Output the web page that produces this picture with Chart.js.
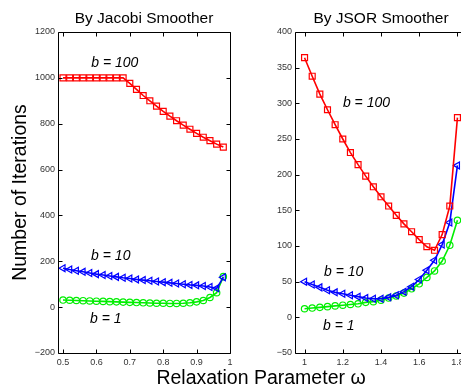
<!DOCTYPE html>
<html>
<head>
<meta charset="utf-8">
<script src="https://cdn.jsdelivr.net/npm/chart.js@4"></script>
<style>
  html, body { margin: 0; padding: 0; width: 461px; height: 385px; overflow: hidden; background: #fff; }
  canvas { position: absolute; top: 0; }
  #xtitle {
    position: absolute; left: 0; top: 367px; width: 522px; text-align: center;
    font: 19.5px "Liberation Sans", Arial, sans-serif; line-height: 20px; color: #000;
  }
</style>
</head>
<body>
<canvas id="jacobi" width="240" height="385" style="left:0"></canvas>
<canvas id="jsor" width="240" height="385" style="left:240px"></canvas>
<div id="xtitle">Relaxation Parameter ω</div>
<script>
// Jacobi smoother
const jacobiOmega = [0.50, 0.52, 0.54, 0.56, 0.58, 0.60, 0.62, 0.64, 0.66, 0.68, 0.70, 0.72, 0.74,
                     0.76, 0.78, 0.80, 0.82, 0.84, 0.86, 0.88, 0.90, 0.92, 0.94, 0.96, 0.98];
const jacobiB100 = [1000, 1000, 1000, 1000, 1000, 1000, 1000, 1000, 1000, 1000, 976, 950, 923,
                    900, 877, 854, 833, 813, 794, 776, 758, 741, 726, 711, 698];
const jacobiB10 = [170, 164, 159, 154, 149, 144, 140, 136, 132, 128, 125, 121, 118,
                   115, 112, 109, 106, 103, 100, 97, 95, 92, 88, 82, 130];
const jacobiB1 = [31, 30, 29, 28, 27, 26, 25, 24, 23, 22, 21, 20, 19,
                  18, 17, 17, 16, 16, 17, 19, 23, 29, 42, 63, 133];
const jacobiXTicks = [0.5, 0.6, 0.7, 0.8, 0.9, 1];
const jacobiYTicks = [-200, 0, 200, 400, 600, 800, 1000, 1200];

// JSOR smoother
const jsorOmega = [1.00, 1.04, 1.08, 1.12, 1.16, 1.20, 1.24, 1.28, 1.32, 1.36, 1.40,
                   1.44, 1.48, 1.52, 1.56, 1.60, 1.64, 1.68, 1.72, 1.76, 1.80];
const jsorB100 = [364, 338, 313, 291, 270, 250, 231, 214, 198, 183, 169,
                  156, 143, 131, 120, 109, 99, 94, 116, 156, 280];
const jsorB10 = [50, 46, 42, 38, 35, 33, 31, 29, 27, 26, 26,
                 28, 31, 36, 43, 53, 66, 80, 102, 133, 213];
const jsorB1 = [12, 13, 14, 15, 16, 17, 18, 19, 21, 22, 24,
                27, 30, 34, 40, 47, 56, 65, 79, 101, 136];
const jsorXTicks = [1, 1.2, 1.4, 1.6, 1.8];
const jsorYTicks = [-50, 0, 50, 100, 150, 200, 250, 300, 350, 400];

const FONT = '"Liberation Sans", Arial, sans-serif';

// box round the plot with inward ticks, panel title and curve labels
const framePlugin = {
  id: 'frame',
  afterDraw(chart, args, opts) {
    const { ctx, chartArea: a } = chart;
    const xs = chart.scales.x, ys = chart.scales.y;
    const L = Math.round(a.left) + 0.5, R = Math.round(a.right) + 0.5;
    const T = Math.round(a.top) + 0.5, B = Math.round(a.bottom) + 0.5;
    ctx.save();
    ctx.strokeStyle = '#000';
    ctx.lineWidth = 1;
    ctx.beginPath();
    ctx.rect(L, T, R - L, B - T);
    xs.ticks.forEach(t => {
      const px = Math.round(xs.getPixelForValue(t.value)) + 0.5;
      ctx.moveTo(px, B); ctx.lineTo(px, B - 4);
      ctx.moveTo(px, T); ctx.lineTo(px, T + 4);
    });
    ys.ticks.forEach(t => {
      const py = Math.round(ys.getPixelForValue(t.value)) + 0.5;
      ctx.moveTo(L, py); ctx.lineTo(L + 4, py);
      ctx.moveTo(R, py); ctx.lineTo(R - 4, py);
    });
    ctx.stroke();

    ctx.fillStyle = '#000';
    ctx.textAlign = 'center';
    ctx.textBaseline = 'alphabetic';
    ctx.font = '15.5px ' + FONT;
    ctx.fillText(opts.title, (a.left + a.right) / 2, 23);

    ctx.textBaseline = 'middle';
    ctx.font = 'italic 14px ' + FONT;
    opts.notes.forEach(n => {
      ctx.fillText(n.text, xs.getPixelForValue(n.x), ys.getPixelForValue(n.y));
    });
    ctx.restore();
  }
};

function series(omega, values, color, shape, radius, rotation) {
  return {
    data: omega.map((x, i) => ({ x: x, y: values[i] })),
    borderColor: color,
    backgroundColor: 'rgba(0,0,0,0)',
    borderWidth: 1.6,
    pointStyle: shape,
    pointRadius: radius,
    pointRotation: rotation || 0,
    pointBorderColor: color,
    pointBackgroundColor: 'rgba(0,0,0,0)',
    pointBorderWidth: 1.2,
    tension: 0,
    fill: false
  };
}

function fmt(v) {
  return String(v).replace('-', '\u2212');
}

function makeChart(id, cfg) {
  return new Chart(document.getElementById(id), {
    type: 'line',
    data: {
      datasets: [
        series(cfg.omega, cfg.b100, '#ff0000', 'rect', 4.2),
        series(cfg.omega, cfg.b10, '#0000ff', 'triangle', 4, 270),
        series(cfg.omega, cfg.b1, '#00ee00', 'circle', 3.2)
      ]
    },
    options: {
      responsive: false,
      animation: false,
      events: [],
      layout: { padding: { top: 32, right: cfg.padRight, left: 0, bottom: 0 } },
      plugins: {
        legend: { display: false },
        tooltip: { enabled: false },
        frame: { title: cfg.title, notes: cfg.notes }
      },
      scales: {
        x: {
          type: 'linear',
          min: cfg.xMin,
          max: cfg.xMax,
          afterBuildTicks: s => { s.ticks = cfg.xTicks.map(v => ({ value: v })); },
          afterFit: s => { s.height = 32; },
          grid: { display: false, drawTicks: false },
          border: { display: false },
          ticks: {
            font: { size: 9, family: FONT }, color: '#333', padding: 4,
            maxRotation: 0, autoSkip: false, callback: fmt
          }
        },
        y: {
          type: 'linear',
          min: cfg.yTicks[0],
          max: cfg.yTicks[cfg.yTicks.length - 1],
          afterBuildTicks: s => { s.ticks = cfg.yTicks.map(v => ({ value: v })); },
          afterFit: s => { s.width = cfg.yWidth; },
          grid: { display: false, drawTicks: false },
          border: { display: false },
          title: {
            display: !!cfg.yTitle,
            text: cfg.yTitle || '',
            font: { size: 19.5, family: FONT },
            color: '#000',
            padding: { top: 9.3, bottom: 0 }
          },
          ticks: {
            font: { size: 9, family: FONT }, color: '#333', padding: 3,
            autoSkip: false, callback: fmt
          }
        }
      }
    },
    plugins: [framePlugin]
  });
}

makeChart('jacobi', {
  title: 'By Jacobi Smoother',
  omega: jacobiOmega, b100: jacobiB100, b10: jacobiB10, b1: jacobiB1,
  xMin: 0.485, xMax: 1.0, xTicks: jacobiXTicks, yTicks: jacobiYTicks,
  yWidth: 58, padRight: 10, yTitle: 'Number of Iterations',
  notes: [
    { text: 'b = 100', x: 0.655, y: 1065 },
    { text: 'b = 10', x: 0.643, y: 222 },
    { text: 'b = 1', x: 0.628, y: -54 }
  ]
});

makeChart('jsor', {
  title: 'By JSOR Smoother',
  omega: jsorOmega, b100: jsorB100, b10: jsorB10, b1: jsorB1,
  xMin: 0.95, xMax: 1.85, xTicks: jsorXTicks, yTicks: jsorYTicks,
  yWidth: 55, padRight: 13,
  notes: [
    { text: 'b = 100', x: 1.324, y: 300 },
    { text: 'b = 10', x: 1.205, y: 64 },
    { text: 'b = 1', x: 1.179, y: -13 }
  ]
});
</script>
</body>
</html>
